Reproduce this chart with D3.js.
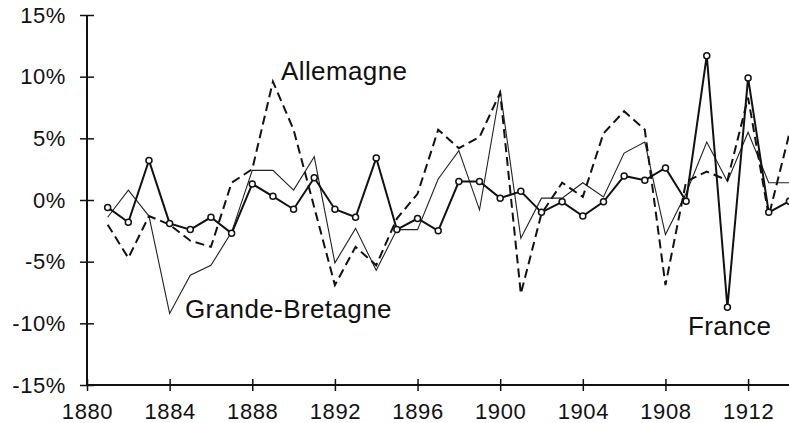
<!DOCTYPE html>
<html>
<head>
<meta charset="utf-8">
<script src="https://cdn.jsdelivr.net/npm/d3@7"></script>
<style>
  body { margin: 0; background: #fff; }
  text { font-family: "Liberation Sans", Arial, sans-serif; fill: #111; }
</style>
</head>
<body>
<div id="chart"></div>
<script>
"use strict";

var years = d3.range(1881, 1915);
var france = [-0.6, -1.8, 3.2, -1.9, -2.4, -1.4, -2.7, 1.3, 0.3, -0.75, 1.8, -0.75, -1.4, 3.4, -2.4, -1.5, -2.5,
  1.5, 1.5, 0.15, 0.7, -1.0, -0.15, -1.3, -0.15, 1.95, 1.6, 2.6, -0.1, 11.7, -8.7, 9.9, -1.0, -0.1];
var allemagne = [-2.0, -4.7, -1.3, -2.0, -3.3, -3.8, 1.4, 2.5, 9.6, 5.7, -0.6, -6.9, -3.8, -5.3, -1.5, 0.5, 5.7,
  4.2, 5.1, 8.7, -7.6, -1.1, 1.4, 0.25, 5.4, 7.2, 5.7, -6.9, 1.5, 2.3, 1.6, 8.3, -1.3, 5.4];
var grandeBretagne = [-1.4, 0.8, -1.3, -9.2, -6.1, -5.3, -2.6, 2.4, 2.4, 0.8, 3.5, -5.1, -2.3, -5.7, -2.4, -2.4, 1.7,
  4.0, -0.8, 8.9, -3.1, 0.15, 0.15, 1.4, 0.25, 3.8, 4.7, -2.8, 0.55, 4.7, 1.5, 5.5, 1.4, 1.4];
var yTicks = [-15, -10, -5, 0, 5, 10, 15];
var xTicks = [1880, 1884, 1888, 1892, 1896, 1900, 1904, 1908, 1912];

var width = 789, height = 423;

var svg = d3.select("#chart")
  .append("svg")
  .attr("width", width)
  .attr("height", height);

var x = d3.scaleLinear().domain([1880, 1914]).range([87, 789.4]);
var y = d3.scaleLinear().domain([-15, 15]).range([385, 15]);

// axes
var yAxis = d3.axisLeft(y)
  .tickValues(yTicks)
  .tickSize(7)
  .tickPadding(14)
  .tickFormat(function(d) { return d + "%"; });

var xAxis = d3.axisBottom(x)
  .tickValues(xTicks)
  .tickSize(6)
  .tickPadding(12)
  .tickFormat(d3.format("d"));

var gy = svg.append("g").attr("transform", "translate(87,0)").call(yAxis);
var gx = svg.append("g").attr("transform", "translate(0,385)").call(xAxis);

[gy, gx].forEach(function(g) {
  g.select(".domain").remove();
  g.selectAll("line").attr("stroke", "#111").attr("stroke-width", 1.5);
  g.selectAll("text")
    .style("font-family", "'Liberation Sans', Arial, sans-serif")
    .style("font-size", "22px")
    .style("letter-spacing", "0.6px")
    .attr("fill", "#111");
});
// ticks cross the axis line
gy.selectAll("line").attr("x1", 7);
gx.selectAll("line").attr("y1", -6);

svg.append("line")
  .attr("x1", 87).attr("x2", 87)
  .attr("y1", y(15)).attr("y2", y(-15))
  .attr("stroke", "#111").attr("stroke-width", 2);
svg.append("line")
  .attr("x1", 87).attr("x2", width)
  .attr("y1", y(-15)).attr("y2", y(-15))
  .attr("stroke", "#111").attr("stroke-width", 2);

var line = d3.line()
  .x(function(d, i) { return x(years[i]); })
  .y(function(d) { return y(d); });

svg.append("path")
  .datum(grandeBretagne)
  .attr("d", line)
  .attr("fill", "none")
  .attr("stroke", "#222")
  .attr("stroke-width", 1.1);

svg.append("path")
  .datum(allemagne)
  .attr("d", line)
  .attr("fill", "none")
  .attr("stroke", "#111")
  .attr("stroke-width", 2)
  .attr("stroke-dasharray", "9,5");

svg.append("path")
  .datum(france)
  .attr("d", line)
  .attr("fill", "none")
  .attr("stroke", "#111")
  .attr("stroke-width", 2);

svg.selectAll("circle.fr")
  .data(france)
  .enter().append("circle")
  .attr("class", "fr")
  .attr("cx", function(d, i) { return x(years[i]); })
  .attr("cy", function(d) { return y(d); })
  .attr("r", 3)
  .attr("fill", "#fff")
  .attr("stroke", "#111")
  .attr("stroke-width", 1.5);

// series labels
var labels = [
  { text: "Allemagne", x: 281, y: 80 },
  { text: "Grande-Bretagne", x: 185, y: 318 },
  { text: "France", x: 688, y: 335 }
];
svg.selectAll("text.lab")
  .data(labels)
  .enter().append("text")
  .attr("class", "lab")
  .attr("x", function(d) { return d.x; })
  .attr("y", function(d) { return d.y; })
  .style("font-size", "26px")
  .style("letter-spacing", "0.4px")
  .text(function(d) { return d.text; });
</script>
</body>
</html>
